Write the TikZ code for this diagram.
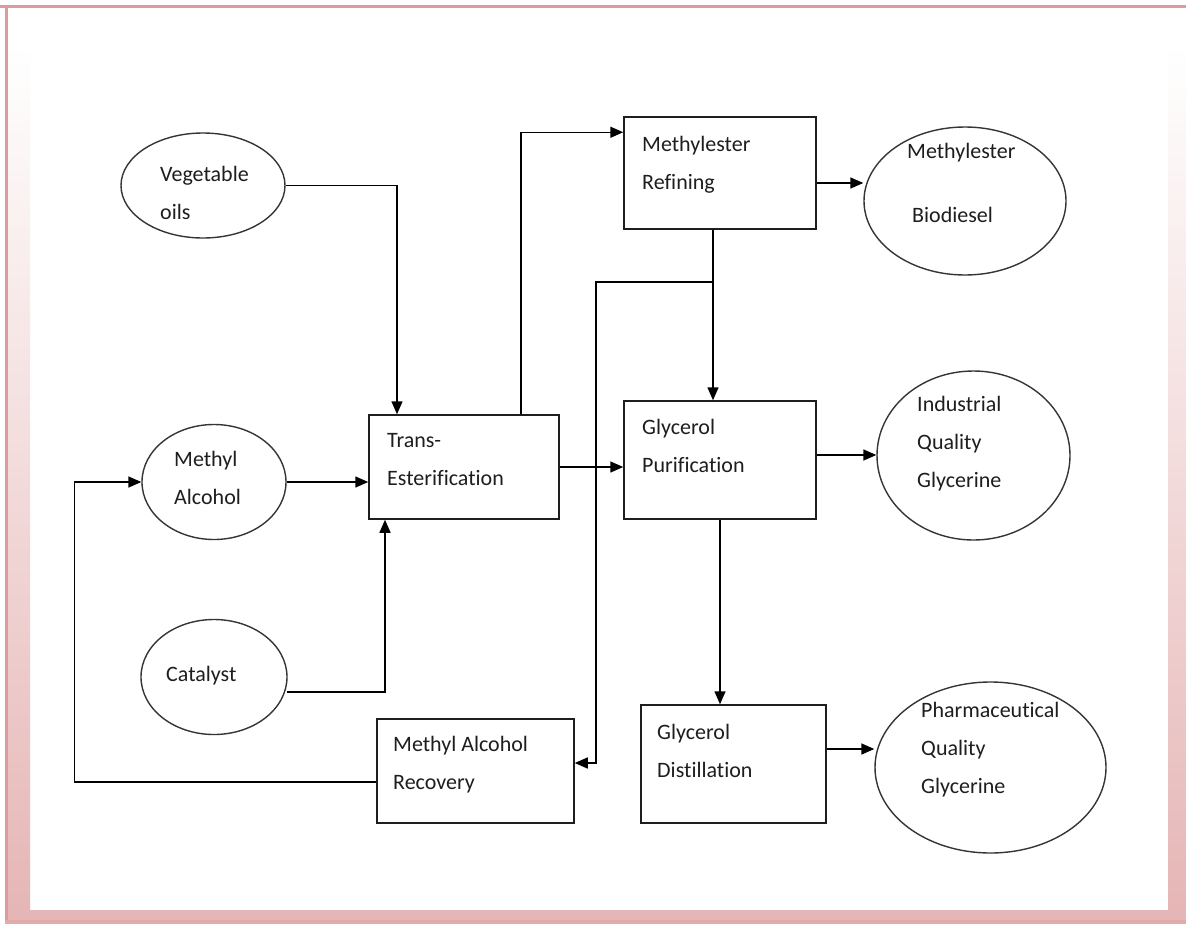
\documentclass[tikz,border=0pt]{standalone}
\usepackage{fontspec}
\setmainfont{Carlito}[Ligatures=NoCommon]
\usetikzlibrary{arrows.meta,shapes.geometric,calc}
\definecolor{framedark}{HTML}{DC9C9C}
\definecolor{framepink}{HTML}{E6B6B6}
\definecolor{inkgray}{HTML}{1E1E1E}
\begin{document}
\begin{tikzpicture}[x=1pt,y=-1pt,
  procbox/.style={draw=inkgray, line width=1.5pt, inner sep=0pt},
  feedoval/.style={ellipse, draw=inkgray!90, line width=1.4pt, inner sep=0pt},
  txt/.style={anchor=west, align=left, inner sep=0pt, text=inkgray,
    font=\fontsize{22}{38}\selectfont},
  flow/.style={draw=black, line width=1.5pt,
    -{Triangle[length=13pt,width=11pt]}}
]
\useasboundingbox (0,0) rectangle (1186,924);

% page frame
\fill[white] (0,0) rectangle (1186,924);
\shade[top color=white, bottom color=framepink] (8,45) rectangle (30,910);
\shade[top color=white, bottom color=framepink] (1168,45) rectangle (1186,910);
\fill[framepink] (8,910) rectangle (1186,920);
\fill[framedark] (0,5) rectangle (1186,8);
\fill[framedark] (5,5) rectangle (8,924);
\fill[framedark!85] (5,920) rectangle (1186,924);

% process boxes
\node[procbox, minimum width=190pt, minimum height=104pt] (trans)  at (464,467)   {};
\node[procbox, minimum width=192pt, minimum height=112pt] (refine) at (720,173)   {};
\node[procbox, minimum width=192pt, minimum height=118pt] (purif)  at (720,460)   {};
\node[procbox, minimum width=185pt, minimum height=118pt] (distil) at (733.5,764) {};
\node[procbox, minimum width=197pt, minimum height=104pt] (recov)  at (475.5,771) {};

% feeds and products
\node[feedoval, minimum width=164pt, minimum height=105pt] (veg)       at (203,185.5)   {};
\node[feedoval, minimum width=144pt, minimum height=115pt] (methyl)    at (214,482)     {};
\node[feedoval, minimum width=146pt, minimum height=115pt] (catalyst)  at (214,677)     {};
\node[feedoval, minimum width=202pt, minimum height=148pt] (biodiesel) at (965,201)     {};
\node[feedoval, minimum width=193pt, minimum height=169pt] (indglyc)   at (973.5,455.5) {};
\node[feedoval, minimum width=231pt, minimum height=171pt] (pharm)     at (990.5,767.5) {};

% labels
\node[txt] (transtxt)  at (387,460) {Trans-\\Esterification};
\node[txt] (refinetxt) at (642,165) {Methylester\\Refining};
\node[txt] (puriftxt)  at (642,446) {Glycerol\\Purification};
\node[txt] (distiltxt) at (657,751) {Glycerol\\Distillation};
\node[txt] (recovtxt)  at (393,765) {Methyl Alcohol\\Recovery};
\node[txt] (vegtxt)    at (160,193) {Vegetable\\oils};
\node[txt] (methyltxt) at (174,478) {Methyl\\Alcohol};
\node[txt] (cattxt)    at (166,676) {Catalyst};
\node[txt] (biotxt)    at (907,183) {Methylester\\[26pt]\hspace*{5pt}Biodiesel};
\node[txt] (indtxt)    at (917,444) {Industrial\\Quality\\Glycerine};
\node[txt] (pharmtxt)  at (921,750) {Pharmaceutical\\Quality\\Glycerine};

% connector end points
\coordinate (refout)  at ($(refine.east)+(0,10)$);
\coordinate (purout)  at ($(purif.east)+(0,-5)$);
\coordinate (disout)  at ($(distil.east)+(0,-15)$);
\coordinate (split)   at ($(refine.south)+(-7,52)$);

% connectors
\draw[flow] (veg.east) -| ($(trans.north)+(-67,0)$);
\draw[flow] (methyl.east) -- (methyl.east -| trans.west);
\draw[flow] ($(catalyst.east)+(-1,15)$) -| ($(trans.south)+(-79,0)$);
\draw[flow] ($(trans.north)+(57,0)$) |- ($(refine.north west)+(0,16)$);
\draw[flow] (trans.east) -- (trans.east -| purif.west);
\draw[flow] (refout) -- (refout -| biodiesel.west);
\draw[flow] ($(refine.south)+(-7,0)$) -- ($(purif.north)+(-7,0)$);
\draw[flow] (split) -| ($(recov.east)+(21,-8)$) -- ($(recov.east)+(0,-8)$);
\draw[flow] (purout) -- (purout -| indglyc.west);
\draw[flow] (purif.south) -- (purif.south |- distil.north);
\draw[flow] (disout) -- (disout -| pharm.west);
\draw[flow] ($(recov.west)+(0,11)$) -| ($(methyl.west)+(-67,0)$) -- (methyl.west);
\end{tikzpicture}
\end{document}
